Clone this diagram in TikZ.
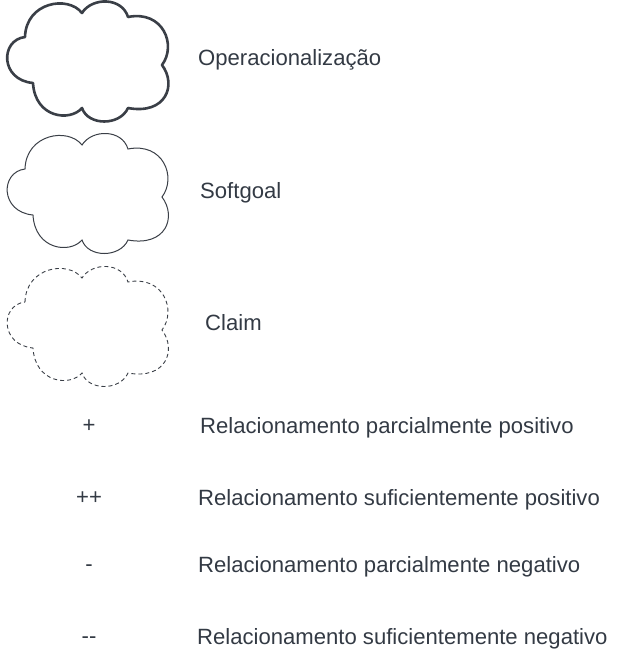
\documentclass[tikz,border=0pt]{standalone}
\usepackage{fontspec}
\setmainfont{Liberation Sans}
\begin{document}
\begin{tikzpicture}[x=1pt, y=-1pt]
    \definecolor{lineColour}{HTML}{3A3F47}
    \definecolor{textColour}{HTML}{333A44}

    \tikzset{
        legendtext/.style={anchor=base west, inner sep=0pt, text=textColour, font=\fontsize{22.1}{25}\selectfont},
        symboltext/.style={anchor=base, inner sep=0pt, text=textColour, font=\fontsize{22.1}{25}\selectfont},
        cloudshape/.pic={
            \draw[pic actions] (25,37) .. controls (26,2) and (68,-5) .. (82,13)
                .. controls (92,-3) and (122,-3) .. (128,17)
                .. controls (163,10) and (177,45) .. (162,65)
                .. controls (177,85) and (166,115) .. (128,108)
                .. controls (120,126) and (88,126) .. (82,108)
                .. controls (70,122) and (35,118) .. (33,83)
                .. controls (0,80) and (0,40) .. cycle;
        }
    }

    \useasboundingbox (0,0) rectangle (625,670);

    % Clouds
    \pic[draw=lineColour, line width=2.6pt, line join=round] at (0,0) {cloudshape};
    \pic[draw=lineColour, line width=1pt] at (0,132) {cloudshape};
    \pic[draw=lineColour, line width=0.9pt, dash pattern=on 4pt off 3pt] at (0,265) {cloudshape};

    % Cloud labels
    \node[legendtext] (oper) at (198,65) {Operacionalização};
    \node[legendtext] (soft) at (200,198) {Softgoal};
    \node[legendtext] (claim) at (205,330) {Claim};

    % Contributions
    \node[symboltext] (pp) at (89,432) {+};
    \node[legendtext] (ppText) at (200,433) {Relacionamento parcialmente positivo};
    \node[symboltext] (sp) at (89,504) {++};
    \node[legendtext] (spText) at (198,505) {Relacionamento suficientemente positivo};
    \node[symboltext] (pn) at (89,571) {-};
    \node[legendtext] (pnText) at (198,572) {Relacionamento parcialmente negativo};
    \node[symboltext] (sn) at (89,643) {-{}-};
    \node[legendtext] (snText) at (197,644) {Relacionamento suficientemente negativo};

\end{tikzpicture}
\end{document}
